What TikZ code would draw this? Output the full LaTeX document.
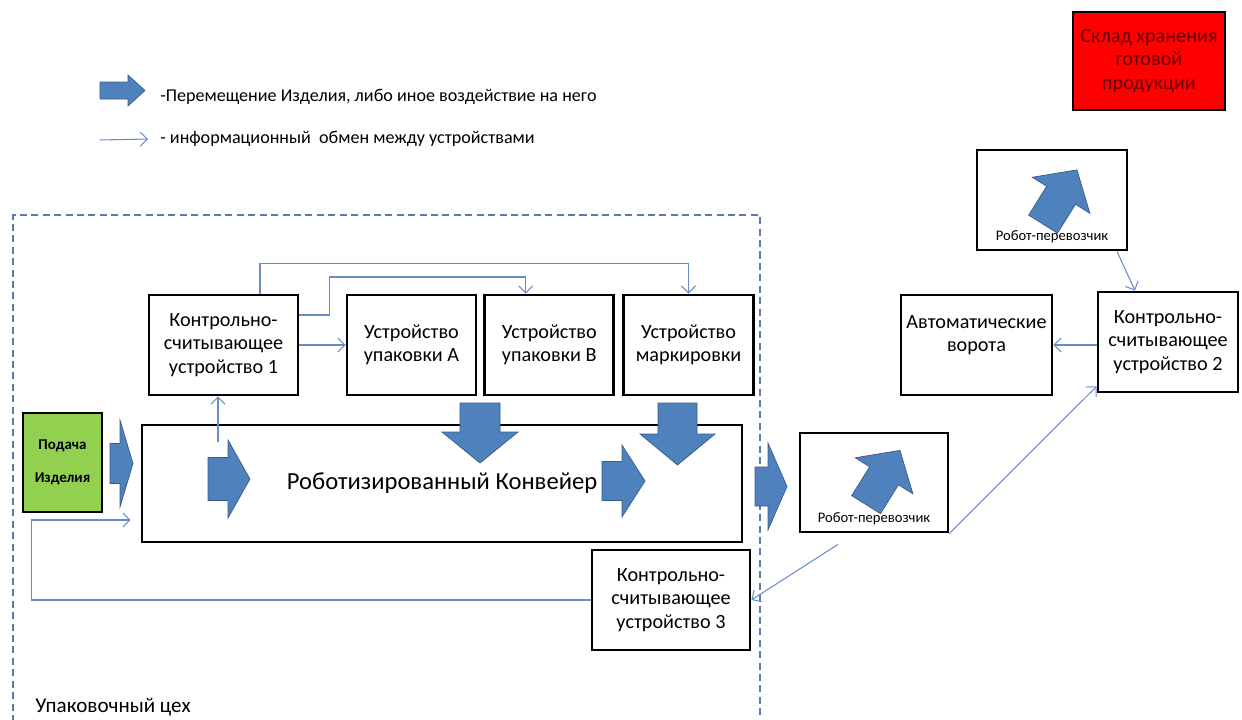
\documentclass[tikz,border=0pt]{standalone}
\usepackage{fontspec}
\setmainfont{Carlito}
\definecolor{ArrowBlue}{HTML}{4F81BD}
\definecolor{ArrowEdge}{HTML}{385D8A}
\definecolor{InfoBlue}{HTML}{6A8CC7}
\definecolor{FeedGreen}{HTML}{92D050}
\definecolor{ShopLine}{HTML}{5B7BAF}
\usetikzlibrary{positioning,calc,arrows.meta}
\tikzset{pics/blk/.style n args={4}{code={
  \filldraw[fill=ArrowBlue,draw=ArrowEdge,line width=.4pt]
  (-#1/2,-#3/2) -- (#1/2-#2,-#3/2) -- (#1/2-#2,-#4/2) -- (#1/2,0)
  -- (#1/2-#2,#4/2) -- (#1/2-#2,#3/2) -- (-#1/2,#3/2) -- cycle;}}}

\begin{document}
\begin{tikzpicture}
[x=0.02cm,y=-0.02cm,
   block/.style={rectangle,draw=black,line width=1.6pt,minimum height=2cm,
   inner sep=1pt,align=center,font=\fontsize{11.5}{13.3}\selectfont},
   lb/.style={text=black,inner sep=0pt},
   infoedge/.style={InfoBlue,line width=.6pt,
   -{Straight Barb[length=4pt,width=8pt,line width=.6pt]}}]
\useasboundingbox (0,0) rectangle (1242,720);

% legend
\pic at (122.5,90.5) {blk={45}{17}{17}{31}};
\node[lb,anchor=west,font=\fontsize{10.3}{12}\selectfont] (lgthick) at (160,97)
  {-Перемещение Изделия, либо иное воздействие на него};
\node[lb,anchor=west,font=\fontsize{10.3}{12}\selectfont] (lgthin) at (160,139)
  {- информационный\ \ обмен между устройствами};
\coordinate (lgfrom) at (100,140);
\draw[infoedge] (lgfrom) -- ($(lgthin.west)+(-12,0)$);

\node[block,fill=red,text=red!40!black,minimum width=3.04cm,minimum height=1.96cm]
  (store) at (1149,61) {Склад хранения\\готовой\\продукции};

% packing shop
\draw[ShopLine,dash pattern=on 4pt off 2.5pt,line width=.6pt] (13,722) |- (760,215) -- (760,722);
\node[lb,anchor=west,font=\fontsize{12}{14}\selectfont] (shop) at (35,707) {Упаковочный цех};

\node[block,minimum width=2.98cm] (ksu1) at (223.5,345) {Контрольно-\\считывающее\\устройство 1};
\node[block,minimum width=2.58cm] (pakA) at (411.5,345) {Устройство\\упаковки А};
\node[block,minimum width=2.58cm,right=0.12cm of pakA] (pakB) {Устройство\\упаковки В};
\node[block,minimum width=2.6cm,right=0.14cm of pakB] (mark) {Устройство\\маркировки};

\node[block,fill=FeedGreen,minimum width=1.58cm,minimum height=1.98cm,
  font=\bfseries\fontsize{8.5}{19}\selectfont] (feed) at (62.5,462.5) {Подача\\Изделия};
\node[block,minimum width=12cm,minimum height=2.34cm,font=\fontsize{14}{17}\selectfont]
  (conv) at (442,483.5) {Роботизированный Конвейер};
\node[block,minimum width=3.16cm] (ksu3) at (671,600) {Контрольно-\\считывающее\\устройство 3};

% outside the shop
\node[block,minimum width=2.96cm,minimum height=1.98cm] (robot1) at (874,482.5) {};
\node[lb,font=\fontsize{8.3}{9}\selectfont,above=0.16cm of robot1.south] (robot1lb) {Робот-перевозчик};
\node[block,minimum width=3cm] (robot2) at (1052,200) {};
\node[lb,font=\fontsize{8.3}{9}\selectfont,above=0.16cm of robot2.south] (robot2lb) {Робот-перевозчик};
\node[block,minimum width=3.02cm] (gates) at (976.5,345) {Автоматические\\ворота\\\mbox{}};
\node[block,minimum width=2.8cm] (ksu2) at (1168,342) {Контрольно-\\считывающее\\устройство 2};

% product flow
\pic at (121.5,463.5) {blk={23}{13}{40}{87}};
\pic at (229,479) {blk={42}{22}{43}{78}};
\pic[rotate=-90] at (480,433) {blk={60}{31}{40}{76}};
\pic at (623.5,481) {blk={43}{23}{39}{72}};
\pic[rotate=-90] at (677.5,434) {blk={62}{31}{39}{75}};
\pic at (771,486.5) {blk={32}{19}{39}{87}};
\pic[rotate=58] at ($(robot1)+(9,-5)$) {blk={64}{30}{34}{68}};
\pic[rotate=58] at ($(robot2)+(8,-3)$) {blk={64}{30}{34}{68}};

% information exchange
\coordinate (cvtap) at (218,442);
\draw[infoedge] (cvtap) -- (cvtap |- ksu1.south);
\draw[infoedge] (ksu1) -- (pakA);
\draw[infoedge] ([xshift=0.73cm]ksu1.north) -- ++(0,-30) -| (mark.north);
\draw[infoedge] ([yshift=0.6cm]ksu1.east) -| ++(30,-38) -| ([xshift=-0.47cm]pakB.north);
\draw[infoedge] ([xshift=1.3cm]robot2.south) -- ([xshift=-0.66cm]ksu2.north);
\draw[infoedge] (ksu2.west |- gates.east) -- (gates.east);
\draw[infoedge] (robot1.south east) -- ([yshift=0.14cm]ksu2.south west);
\draw[infoedge] ([shift={(-0.72cm,-0.22cm)}]robot1.south) -- (ksu3.east);
\draw[infoedge,shorten >=0.2cm] (ksu3.west) -- ++(-559,0) |- ([yshift=-0.73cm]conv.west);
%%
\end{tikzpicture}
\end{document}
